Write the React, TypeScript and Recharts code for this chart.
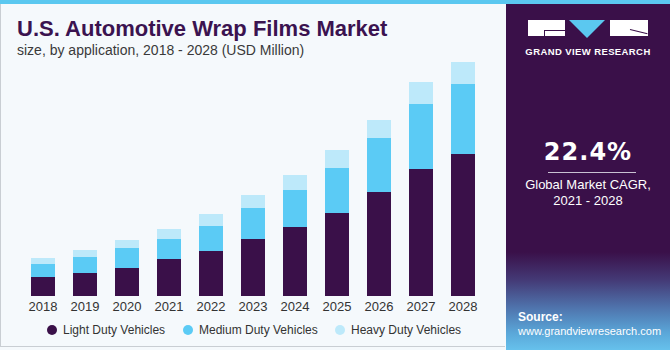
import { BarChart, Bar, XAxis, YAxis } from 'recharts'

const years = ['2018', '2019', '2020', '2021', '2022', '2023', '2024', '2025', '2026', '2027', '2028']
const lightDuty = [19, 23, 28, 37, 45, 57, 69, 83, 104, 127, 142]
const mediumDuty = [13, 16, 20, 20, 25, 31, 37, 45, 54, 65, 70]
const heavyDuty = [6, 7, 8, 10, 12, 13, 15, 18, 18, 22, 22]

const seriesNames = ['Light Duty Vehicles', 'Medium Duty Vehicles', 'Heavy Duty Vehicles']
const seriesColors = ['#3a1049', '#5bcbf5', '#bde9fa']

const data = years.map((year, i) => ({
  year,
  light: lightDuty[i],
  medium: mediumDuty[i],
  heavy: heavyDuty[i],
}))

const font = '"Liberation Sans", Arial, sans-serif'

export default function App() {
  return (
    <div
      style={{
        position: 'absolute',
        left: 0,
        top: 0,
        width: 670,
        height: 350,
        overflow: 'hidden',
        fontFamily: font,
        background: '#f5f9fc',
      }}
    >
      {/* left panel frame */}
      <div
        style={{
          position: 'absolute',
          left: 0,
          top: 0,
          width: 505,
          height: 347,
          borderLeft: '1px solid #c9ced3',
          borderBottom: '1px solid #c9ced3',
          boxSizing: 'border-box',
        }}
      />
      <div style={{ position: 'absolute', left: 0, top: 0, width: 670, height: 4, background: '#5bc8f0', zIndex: 3 }} />

      <div
        style={{
          position: 'absolute',
          left: 17,
          top: 16,
          fontSize: 22,
          fontWeight: 700,
          color: '#3b1350',
          whiteSpace: 'nowrap',
        }}
      >
        U.S. Automotive Wrap Films Market
      </div>
      <div style={{ position: 'absolute', left: 17, top: 42, fontSize: 14, color: '#3a3a3a', whiteSpace: 'nowrap' }}>
        size, by application, 2018 - 2028 (USD Million)
      </div>

      <div style={{ position: 'absolute', left: 0, top: 0 }}>
        <BarChart width={500} height={350} data={data} margin={{ top: 56, right: 16, bottom: 24, left: 22 }}>
          <XAxis
            dataKey="year"
            axisLine={false}
            tickLine={false}
            tickSize={0}
            tickMargin={6}
            interval={0}
            height={30}
            tick={{ fill: '#333', fontSize: 13, fontFamily: font }}
          />
          <YAxis hide domain={[0, 240]} />
          <Bar dataKey="light" stackId="a" fill={seriesColors[0]} barSize={24} isAnimationActive={false} />
          <Bar dataKey="medium" stackId="a" fill={seriesColors[1]} barSize={24} isAnimationActive={false} />
          <Bar dataKey="heavy" stackId="a" fill={seriesColors[2]} barSize={24} isAnimationActive={false} />
        </BarChart>
      </div>

      {/* legend */}
      {seriesNames.map((name, i) => (
        <div
          key={name}
          style={{
            position: 'absolute',
            left: [47, 183, 335][i],
            top: 323,
            display: 'flex',
            alignItems: 'center',
            fontSize: 12,
            color: '#333',
            whiteSpace: 'nowrap',
          }}
        >
          <span
            style={{
              width: 10,
              height: 10,
              borderRadius: 5,
              background: seriesColors[i],
              marginRight: 6,
              display: 'inline-block',
            }}
          />
          {name}
        </div>
      ))}

      {/* right panel */}
      <div
        style={{
          position: 'absolute',
          left: 506,
          top: 0,
          width: 164,
          height: 350,
          background:
            'linear-gradient(180deg, #3a1049 0%, #3a1049 72%, #443a76 80%, #4f74ad 88%, #5aa6d8 95%, #66c1ec 100%)',
        }}
      >
        <div style={{ position: 'absolute', left: 22, top: 20, width: 37, height: 16, background: '#fff' }}>
          <div style={{ position: 'absolute', left: 16, top: 10, width: 21, height: 1, background: '#3a1049' }} />
          <div style={{ position: 'absolute', left: 16, top: 10, width: 1, height: 6, background: '#3a1049' }} />
        </div>
        <div
          style={{
            position: 'absolute',
            left: 63,
            top: 20,
            width: 0,
            height: 0,
            borderLeft: '18px solid transparent',
            borderRight: '18px solid transparent',
            borderTop: '18px solid #5bc8f0',
          }}
        />
        <div style={{ position: 'absolute', left: 104, top: 20, width: 38, height: 16, background: '#fff' }}>
          <div
            style={{
              position: 'absolute',
              left: 20,
              top: 9,
              width: 18,
              height: 1,
              background: '#3a1049',
              transform: 'rotate(14deg)',
              transformOrigin: 'left center',
            }}
          />
        </div>
        <div
          style={{
            position: 'absolute',
            left: 0,
            width: 164,
            top: 46,
            textAlign: 'center',
            color: '#fff',
            fontSize: 9.5,
            fontWeight: 700,
            letterSpacing: 0.4,
          }}
        >
          GRAND VIEW RESEARCH
        </div>

        <div
          style={{
            position: 'absolute',
            left: 0,
            width: 164,
            top: 138,
            textAlign: 'center',
            color: '#fff',
            fontSize: 24,
            fontWeight: 700,
            fontFamily: '"DejaVu Sans", sans-serif',
            letterSpacing: 1,
          }}
        >
          22.4%
        </div>
        <div style={{ position: 'absolute', left: 42, top: 172, width: 88, height: 1, background: '#c9c2d2' }} />
        <div
          style={{
            position: 'absolute',
            left: 0,
            width: 164,
            top: 177,
            textAlign: 'center',
            color: '#fff',
            fontSize: 13,
            lineHeight: '16px',
          }}
        >
          Global Market CAGR,
          <br />
          2021 - 2028
        </div>

        <div
          style={{
            position: 'absolute',
            left: 12,
            top: 310,
            color: '#fff',
            fontSize: 11,
            lineHeight: '14px',
          }}
        >
          <div style={{ fontWeight: 700, fontSize: 12 }}>Source:</div>
          <div>www.grandviewresearch.com</div>
        </div>
      </div>
    </div>
  )
}
